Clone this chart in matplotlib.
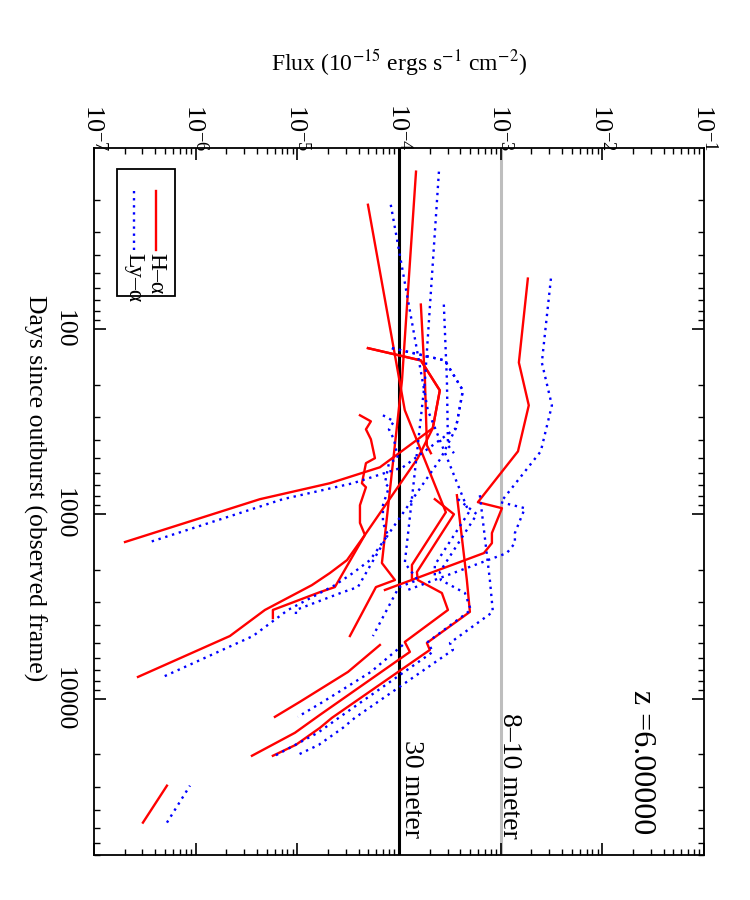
import matplotlib
matplotlib.use('Agg')
import matplotlib.pyplot as plt
from matplotlib.ticker import (LogLocator, NullFormatter, FixedLocator, FixedFormatter,
                               LogFormatterSciNotation)
from matplotlib.patches import Rectangle

plt.rcParams['font.family'] = ['Liberation Serif', 'DejaVu Serif']
plt.rcParams['mathtext.fontset'] = 'stix'

# light curves: days (observed frame), H-alpha flux, Ly-alpha flux
days_1 = [53.4, 152, 259, 459, 865, 932, 1270, 1440, 1630, 2580]
ha_1 = [1.85e-3, 1.51e-3, 1.89e-3, 1.48e-3, 5.97e-4, 1.03e-3, 8.2e-4, 8.2e-4, 6.84e-4, 7.27e-5]
ly_1 = [3.12e-3, 2.54e-3, 3.19e-3, 2.48e-3, 1.0e-3, 1.73e-3, 1.38e-3, 1.38e-3, 1.15e-3, 1.22e-4]

days_2 = [21.3, 275, 980, 1890, 2280]
ha_2 = [4.95e-5, 1.14e-4, 2.89e-4, 1.34e-4, 1.34e-4]
ly_2 = [8.3e-5, 1.92e-4, 4.87e-4, 2.25e-4, 2.25e-4]

days_3 = [14.1, 190, 1845, 2280, 2490, 4580]
ha_3 = [1.47e-4, 1.07e-4, 6.79e-5, 9.12e-5, 5.93e-5, 3.29e-5]
ly_3 = [2.47e-4, 1.8e-4, 1.14e-4, 1.53e-4, 9.98e-5, 5.54e-5]

days_4 = [73.8, 190, 426, 470]
ha_4 = [1.64e-4, 1.80e-4, 1.88e-4, 2.06e-4]
ly_4 = [2.76e-4, 2.96e-4, 3.03e-4, 3.47e-4]

days_5 = [127, 148, 215, 344, 560, 683, 833, 1420]
ha_5 = [4.95e-5, 1.64e-4, 2.52e-4, 2.15e-4, 6.49e-5, 2.09e-5, 4.29e-6, 2.02e-7]
ly_5 = [8.51e-5, 2.82e-4, 4.25e-4, 3.63e-4, 1.09e-4, 3.52e-5, 7.21e-6, 3.55e-7]

days_6 = [127, 148, 215, 344, 500, 1300, 2490, 2650, 3310, 3660]
ha_6 = [4.95e-5, 1.64e-4, 2.52e-4, 2.15e-4, 1.53e-4, 4.62e-5, 2.34e-5, 1.67e-5, 5.75e-6, 5.75e-6]
ly_6 = [8.51e-5, 2.82e-4, 4.25e-4, 3.63e-4, 2.58e-4, 7.78e-5, 3.94e-5, 2.81e-5, 9.69e-6, 9.69e-6]

days_7 = [293, 316, 349, 395, 500, 532, 683, 718, 898, 1120, 1300, 1780, 2090, 2430, 3310, 4580, 7620]
ha_7 = [4.13e-5, 5.29e-5, 4.73e-5, 5.29e-5, 5.80e-5, 4.73e-5, 4.32e-5, 4.73e-5, 4.13e-5,
        4.13e-5, 4.62e-5, 3.08e-5, 2.09e-5, 1.39e-5, 4.80e-6, 2.17e-6, 2.71e-7]
ly_7 = [6.95e-5, 8.91e-5, 7.96e-5, 8.91e-5, 9.75e-5, 7.96e-5, 7.27e-5, 7.96e-5, 6.95e-5,
        6.95e-5, 7.78e-5, 5.18e-5, 3.52e-5, 2.34e-5, 8.09e-6, 3.66e-6, 4.77e-7]

days_8 = [793, 2280, 3390, 4990, 5445, 12680, 14360, 17740, 20340]
ha_8 = [3.71e-4, 4.65e-4, 4.98e-4, 1.88e-4, 2.01e-4, 2.19e-5, 1.67e-5, 9.69e-6, 5.75e-6]
ly_8 = [6.24e-4, 7.83e-4, 8.38e-4, 3.17e-4, 3.39e-4, 3.68e-5, 2.81e-5, 1.63e-5, 9.69e-6]

days_9 = [5120, 7160, 10390, 12530]
ha_9 = [6.49e-5, 3.15e-5, 1.06e-5, 6.02e-6]
ly_9 = [1.09e-4, 5.29e-5, 1.79e-5, 1.01e-5]

days_10 = [833, 1005, 2064, 2280, 2680, 3310, 4930, 5580, 12220, 15280, 20340]
ha_10 = [2.25e-4, 3.47e-4, 1.50e-4, 1.53e-4, 2.64e-4, 3.03e-4, 1.14e-4, 1.28e-4, 1.67e-5, 9.47e-6, 3.58e-6]
ly_10 = [3.80e-4, 5.83e-4, 2.52e-4, 2.58e-4, 4.45e-4, 5.09e-4, 1.92e-4, 2.15e-4, 2.81e-5, 1.59e-5, 6.02e-6]

days_11 = [46770, 29520]
ha_11 = [3.03e-7, 5.22e-7]
ly_11 = [5.22e-7, 8.79e-7]

curves = [(days_1, ha_1, ly_1), (days_2, ha_2, ly_2), (days_3, ha_3, ly_3),
          (days_4, ha_4, ly_4), (days_5, ha_5, ly_5), (days_6, ha_6, ly_6),
          (days_7, ha_7, ly_7), (days_8, ha_8, ly_8), (days_9, ha_9, ly_9),
          (days_10, ha_10, ly_10), (days_11, ha_11, ly_11)]

limit_30m = 1e-4
limit_8m = 1e-3
flux_ticks = [1e-7, 1e-6, 1e-5, 1e-4, 1e-3, 1e-2, 1e-1]
day_ticks = [100, 1000, 10000]
day_labels = ['100', '1000', '10000']

fig = plt.figure(figsize=(7.5, 9), dpi=100)
ax = fig.add_axes([0.1253, 0.05, 0.8134, 0.7856])
ax.set_xscale('log')
ax.set_yscale('log')

# reference telescope limits
ax.axvline(limit_30m, color='black', lw=2.2, zorder=1)
ax.axvline(limit_8m, color='#bebebe', lw=2.2, zorder=1)

for d, ha, ly in curves:
    ax.plot(ha, d, color='red', lw=1.7, zorder=2)
    ax.plot(ly, d, color='blue', lw=1.7, ls=(0, (1, 2)), zorder=3)

ax.set_xlim(1e-7, 1e-1)
ax.set_ylim(70000, 10.5)

ax.xaxis.set_major_locator(FixedLocator(flux_ticks))
ax.xaxis.set_major_formatter(LogFormatterSciNotation())
ax.xaxis.set_minor_locator(LogLocator(base=10, subs=range(2, 10), numticks=20))
ax.xaxis.set_minor_formatter(NullFormatter())
ax.yaxis.set_major_locator(FixedLocator(day_ticks))
ax.yaxis.set_major_formatter(FixedFormatter(day_labels))
ax.yaxis.set_minor_locator(LogLocator(base=10, subs=range(2, 10), numticks=20))
ax.yaxis.set_minor_formatter(NullFormatter())
ax.xaxis.offsetText.set_visible(False)
ax.yaxis.offsetText.set_visible(False)

ax.tick_params(axis='x', which='both', direction='in', top=True, bottom=True,
               labeltop=True, labelbottom=False, labelrotation=-90, labelsize=19, pad=-2.5)
ax.tick_params(axis='y', which='both', direction='in', left=True, right=True,
               labelrotation=-90, labelsize=18.5, pad=14)
ax.tick_params(which='major', length=8.5, width=1.2)
ax.tick_params(which='minor', length=4.5, width=1.0)
for lbl in ax.get_yticklabels():
    lbl.set_va('center')
for s in ax.spines.values():
    s.set_linewidth(1.3)

fig.text(0.532, 1 - 63 / 900, r'Flux (10$^{-15}$ ergs s$^{-1}$ cm$^{-2}$)',
         ha='center', va='center', fontsize=17)
fig.text(35 / 750, 1 - 488 / 900, 'Days since outburst (observed frame)',
         rotation=-90, ha='center', va='center', fontsize=18.5)

ax.text(1.34e-4, 16700, '30 meter', rotation=-90, ha='center', va='top', fontsize=20)
ax.text(1.23e-3, 11900, '8–10 meter', rotation=-90, ha='center', va='top', fontsize=20)
ax.text(0.0244, 8950, 'z =6.00000', rotation=-90, ha='center', va='top', fontsize=23)

# legend box drawn by hand so that it can be turned like the rest
ax.add_patch(Rectangle((0.0377, 0.7907), 0.0951, 0.1796, transform=ax.transAxes,
                       fill=False, ec='black', lw=1.3, zorder=5))
ax.plot([0.1021, 0.1021], [0.9392, 0.8560], transform=ax.transAxes, color='red', lw=1.7)
ax.plot([0.0661, 0.0661], [0.9392, 0.8560], transform=ax.transAxes, color='blue',
        lw=1.7, ls=(0, (1, 2)))
ax.text(0.1021, 0.851, 'H–α', rotation=-90, ha='center', va='top',
        transform=ax.transAxes, fontsize=17)
ax.text(0.0661, 0.851, 'Ly–α', rotation=-90, ha='center', va='top',
        transform=ax.transAxes, fontsize=17)

fig.savefig('out.png', dpi=100)
